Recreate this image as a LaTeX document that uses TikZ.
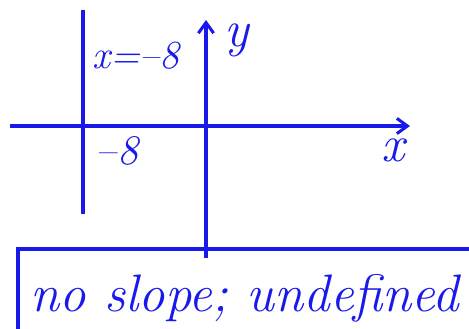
\documentclass[tikz,border=0pt]{standalone}
\usepackage{tikz}
\usetikzlibrary{arrows.meta,positioning}
\definecolor{pen}{RGB}{25,25,235}

\begin{document}
\begin{tikzpicture}[x=0.3mm, y=-0.3mm, ink/.style={draw=pen, line width=2.6pt},
    tip/.style={-{Straight Barb[length=9pt,width=13pt]}},
    every node/.style={text=pen, inner sep=0pt}, font=\itshape]
    \useasboundingbox (0,0) rectangle (469,328);
    \clip (0,0) rectangle (469,328);
    % Ejes
    \coordinate (xl) at (10,126);
    \coordinate (xr) at (410,126);
    \coordinate (yb) at (206,258);
    \coordinate (yt) at (206,20);
    \draw[ink, tip] (xl) -- (xr);
    \draw[ink, tip] (yb) -- (yt);
    \node (lx) at (393,150) {\fontsize{44}{44}\selectfont x};
    \node (ly) at (237,40) {\fontsize{44}{44}\selectfont y};

    % Recta x=-8
    \coordinate (vt) at (83,10);
    \coordinate (vb) at (83,214);
    \draw[ink] (vt) -- (vb);
    \node (eq) at (136,56) {\fontsize{34}{34}\selectfont x=\textendash8};
    \node (m8) at (117,151) {\fontsize{36}{36}\selectfont \textendash8};

    % Caja
    \coordinate (c1) at (18,340);
    \coordinate (c2) at (18,249);
    \coordinate (c3) at (480,249);
    \draw[ink] (c1) -- (c2) -- (c3);
    \node (txt) at (245,298) {\fontsize{45}{45}\selectfont no slope; undefined};
\end{tikzpicture}
\end{document}
